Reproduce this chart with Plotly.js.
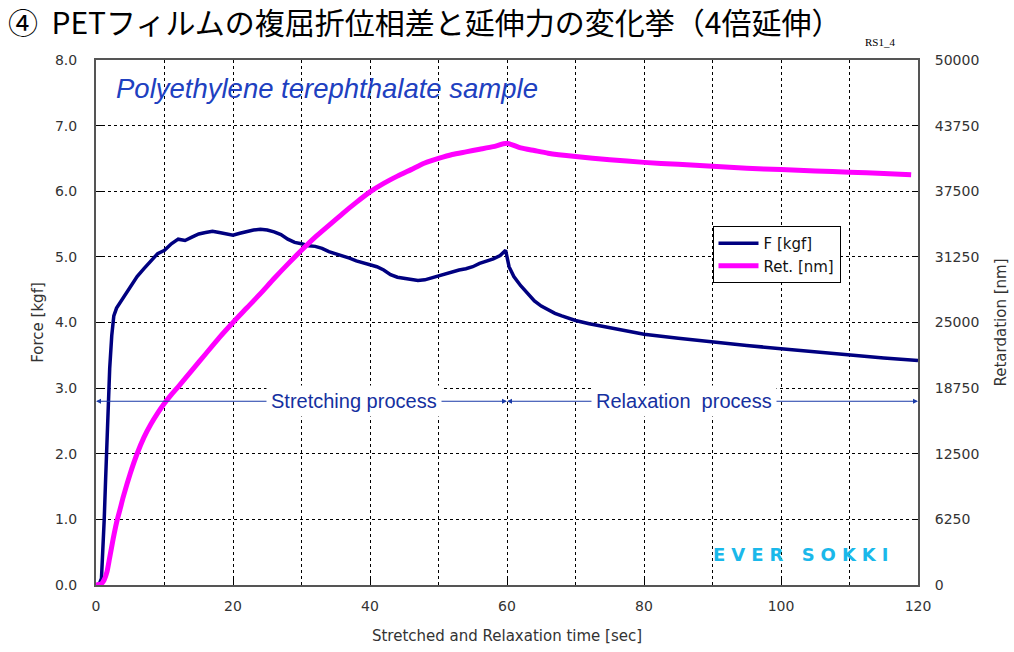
<!DOCTYPE html>
<html><head><meta charset="utf-8">
<script src="https://cdn.plot.ly/plotly-3.0.1.min.js"></script>
<style>body{margin:0;background:#fff}#chart{width:1014px;height:652px}</style>
</head><body><div id="chart"></div>
<script>
// Force [kgf] vs time [sec]
const forceTime = [0,0.5,0.8,1.0,1.2,1.4,1.6,1.8,2.0,2.3,2.6,3.0,3.5,4,5,6,7,8,9,10,11,12,13,14,15,16,17,18,19,20,21,22,23,24,25,26,27,28,29,30,31,32,33,34,35,36,37,38,39,40,41,42,43,44,45,46,47,48,49,50,51,52,53,54,55,56,57,58,59,59.8,60.3,61,62,63,64,65,66,67,68,70,72,75,78,80,85,90,95,100,105,110,115,120];
const forceVal = [0,0.02,0.1,0.5,1.0,1.6,2.2,2.8,3.3,3.8,4.1,4.22,4.3,4.4,4.55,4.7,4.82,4.93,5.05,5.1,5.2,5.27,5.25,5.3,5.35,5.37,5.39,5.37,5.35,5.33,5.36,5.39,5.41,5.42,5.41,5.38,5.34,5.27,5.22,5.2,5.17,5.16,5.13,5.08,5.05,5.02,4.98,4.94,4.91,4.88,4.85,4.8,4.73,4.69,4.67,4.66,4.64,4.65,4.68,4.72,4.74,4.77,4.8,4.82,4.85,4.9,4.93,4.97,5.02,5.1,4.85,4.7,4.56,4.44,4.33,4.25,4.19,4.14,4.1,4.03,3.98,3.92,3.86,3.82,3.76,3.7,3.65,3.6,3.55,3.5,3.46,3.42];
// Retardation [nm] vs time [sec]
const retTime = [0,0.8,1.2,1.6,2,2.5,3,3.5,4,5,6,7,8,9,10,11,12,14,16,18,20,22,24,26,28,30,32,34,36,38,40,42,44,46,48,50,52,54,56,58,60,62,64,66,70,75,80,85,90,95,100,105,110,115,119];
const retVal = [0,125,500,1250,2625,4375,5940,7190,8440,10625,12500,14060,15310,16375,17310,18125,18875,20440,22000,23560,25000,26375,27750,29190,30560,31875,33125,34250,35375,36440,37440,38250,38940,39560,40190,40625,41000,41250,41500,41750,42060,41625,41375,41125,40810,40500,40250,40060,39875,39690,39560,39440,39310,39190,39060];

const xTicks = [0,20,40,60,80,100,120];
const yTicks = [0,1,2,3,4,5,6,7,8];
const y2Ticks = [0,6250,12500,18750,25000,31250,37500,43750,50000];
const y2Labels = ['0','6250','12500','18750','25000','31250','37500','43750','50000'];

const gfont = '"DejaVu Sans", "Noto Sans CJK JP", sans-serif';
const tickFont = {family:gfont, size:14, color:'#333'};
const titleFont = {family:gfont, size:15, color:'#333'};
const blue = '#1a3aa8';

const traces = [
  {x:forceTime, y:forceVal, name:'F [kgf]', mode:'lines', line:{color:'#000080', width:3.5}, yaxis:'y'},
  {x:retTime, y:retVal, name:'Ret. [nm]', mode:'lines', line:{color:'#ff00ff', width:5, shape:'spline', smoothing:0.6}, yaxis:'y2'}
];

const layout = {
  width:1014, height:652,
  margin:{l:96, r:96, t:60, b:67},
  paper_bgcolor:'#fff', plot_bgcolor:'#fff',
  title:{text:'④  PETフィルムの複屈折位相差と延伸力の変化挙（4倍延伸）', x:8/1014, xanchor:'left', xref:'container', y:1-23/652, yanchor:'middle', yref:'container',
    font:{family:'"Noto Sans CJK JP", sans-serif', size:30, color:'#000'}},
  showlegend:true,
  legend:{x:0.75, y:0.684, xanchor:'left', yanchor:'top', bgcolor:'#fff', bordercolor:'#000', borderwidth:1,
    font:{family:gfont, size:15, color:'#111'}, tracegroupgap:0, itemwidth:40},
  xaxis:{range:[0,120], tickvals:xTicks, ticks:'inside', ticklen:6, tickcolor:'#000', showline:true, linecolor:'#555', linewidth:2, mirror:true,
    showgrid:true, gridcolor:'#000', griddash:'dot', gridwidth:1, zeroline:false, tickfont:tickFont, ticklabelstandoff:7,
    minor:{dtick:10, showgrid:true, gridcolor:'#000', griddash:'dot', ticks:'inside', ticklen:3, tickcolor:'#000'},
    title:{text:'Stretched and Relaxation time [sec]', font:titleFont, standoff:18}},
  yaxis:{range:[0,8], tickvals:yTicks, tickformat:'.1f', ticks:'inside', ticklen:6, tickcolor:'#000', showline:true, linecolor:'#555', linewidth:2,
    showgrid:true, gridcolor:'#000', griddash:'dot', gridwidth:1, zeroline:false, tickfont:tickFont, ticklabelstandoff:14,
    title:{text:'Force [kgf]', font:titleFont, standoff:8}},
  yaxis2:{range:[0,50000], tickvals:y2Ticks, ticktext:y2Labels, overlaying:'y', side:'right', ticks:'inside', ticklen:6, tickcolor:'#000', showline:true, linecolor:'#555', linewidth:2,
    showgrid:false, zeroline:false, tickfont:tickFont, ticklabelstandoff:12,
    title:{text:'Retardation [nm]', font:titleFont, standoff:17}},
  annotations:[
    {xref:'paper', yref:'paper', x:0.022, y:0.946, xanchor:'left', yanchor:'middle', showarrow:false,
     text:'<i>Polyethylene terephthalate sample</i>', font:{family:'"Liberation Sans", Arial, sans-serif', size:27.5, color:'#2040c0'}},
    {xref:'paper', yref:'paper', x:(897-96)/822, y:(585-42)/525, xanchor:'right', yanchor:'middle', showarrow:false,
     text:'RS1_4', font:{family:'"Liberation Serif", serif', size:11, color:'#000'}},
    // arrows
    {x:0, y:2.8, ax:30, ay:2.8, axref:'x', ayref:'y', xref:'x', yref:'y', text:'', showarrow:true, arrowhead:2, arrowsize:1, arrowwidth:1, arrowcolor:blue},
    {x:60, y:2.8, ax:30, ay:2.8, axref:'x', ayref:'y', xref:'x', yref:'y', text:'', showarrow:true, arrowhead:2, arrowsize:1, arrowwidth:1, arrowcolor:blue},
    {x:60, y:2.8, ax:90, ay:2.8, axref:'x', ayref:'y', xref:'x', yref:'y', text:'', showarrow:true, arrowhead:2, arrowsize:1, arrowwidth:1, arrowcolor:blue},
    {x:120, y:2.8, ax:90, ay:2.8, axref:'x', ayref:'y', xref:'x', yref:'y', text:'', showarrow:true, arrowhead:2, arrowsize:1, arrowwidth:1, arrowcolor:blue},
    {x:37.6, y:2.8, xref:'x', yref:'y', showarrow:false, text:'Stretching process', bgcolor:'#fff', borderpad:4,
     font:{family:'"Liberation Sans", Arial, sans-serif', size:20, color:'#1530a0'}},
    {x:85.8, y:2.8, xref:'x', yref:'y', showarrow:false, text:'Relaxation  process', bgcolor:'#fff', borderpad:4,
     font:{family:'"Liberation Sans", Arial, sans-serif', size:20, color:'#1530a0'}},
    {xref:'paper', yref:'paper', x:0.974, y:0.058, xanchor:'right', yanchor:'middle', showarrow:false,
     text:'<span style="letter-spacing:6px">EVER SOKKI</span>', font:{family:'"DejaVu Sans", sans-serif', size:18, weight:'bold', color:'#1ab8ea'}}
  ]
};

Plotly.newPlot('chart', traces, layout, {displayModeBar:false, staticPlot:true});
</script></body></html>
